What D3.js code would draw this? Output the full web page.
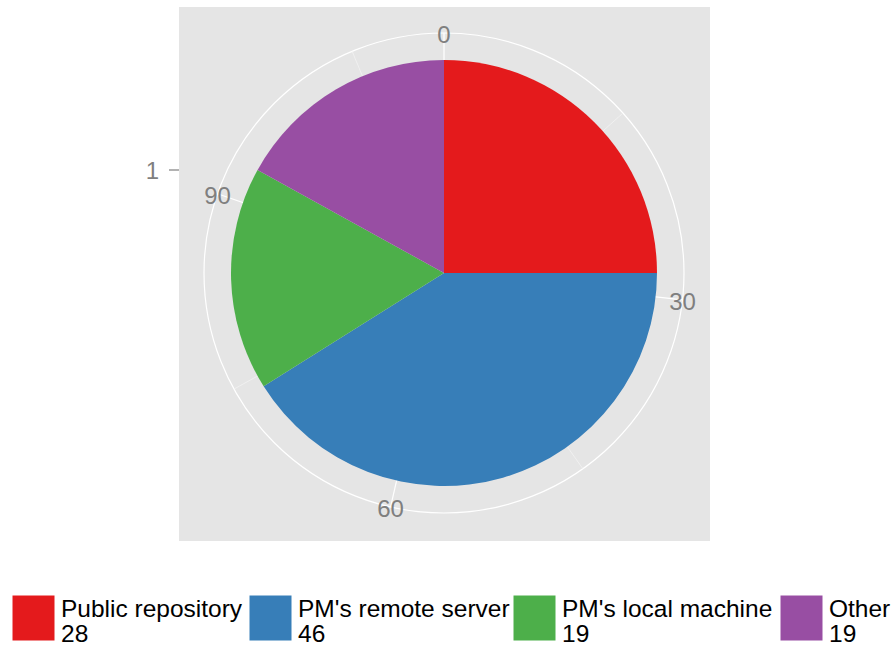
<!DOCTYPE html>
<html lang="en">
<head>
  <meta charset="UTF-8">
  <title>Where the data is kept</title>
  <script src="https://d3js.org/d3.v7.min.js"></script>
  <style>
    body { margin: 0; background: #fff; font-family: Arial, "Liberation Sans", sans-serif; }
  </style>
</head>
<body>
<svg id="chart" width="891" height="648"></svg>
<script>
const categories = ["Public repository", "PM's remote server", "PM's local machine", "Other"];
const counts = [28, 46, 19, 19];
const colors = ["#E41A1C", "#377EB8", "#4DAF4A", "#984EA3"];
const thetaTicks = [0, 30, 60, 90];
const thetaMinor = [15, 45, 75, 105];
const rTicks = ["1"];

const svg = d3.select("#chart");
const panel = { x: 179, y: 7, w: 531, h: 534 };
const cx = 444, cy = 273;
const pieR = 213, gridR = 240;

svg.append("rect")
  .attr("x", panel.x).attr("y", panel.y)
  .attr("width", panel.w).attr("height", panel.h)
  .attr("fill", "#E5E5E5");

const total = d3.sum(counts);
const theta = d3.scaleLinear().domain([0, total]).range([0, 2 * Math.PI]);

const g = svg.append("g").attr("transform", `translate(${cx},${cy})`);

// grid: outer circle and spokes
g.append("circle").attr("r", gridR).attr("fill", "none").attr("stroke", "#fff").attr("stroke-width", 1.2);
g.selectAll(".minor").data(thetaMinor).enter().append("line")
  .attr("x1", 0).attr("y1", 0)
  .attr("x2", d => gridR * Math.sin(theta(d)))
  .attr("y2", d => -gridR * Math.cos(theta(d)))
  .attr("stroke", "#F2F2F2").attr("stroke-width", 0.8);
g.selectAll(".major").data(thetaTicks).enter().append("line")
  .attr("x1", 0).attr("y1", 0)
  .attr("x2", d => gridR * Math.sin(theta(d)))
  .attr("y2", d => -gridR * Math.cos(theta(d)))
  .attr("stroke", "#fff").attr("stroke-width", 1.2);

// pie slices
const pie = d3.pie().sort(null).value(d => d.v)
  .startAngle(0).endAngle(2 * Math.PI);
const arc = d3.arc().innerRadius(0).outerRadius(pieR);
const slices = pie(categories.map((c, i) => ({ c, v: counts[i], col: colors[i] })));
g.selectAll(".slice").data(slices).enter().append("path")
  .attr("d", arc)
  .attr("fill", d => d.data.col);

// theta labels, centred on the outer circle
const labR = gridR;
g.selectAll(".tlab").data(thetaTicks).enter().append("text")
  .attr("x", d => labR * Math.sin(theta(d)))
  .attr("y", d => -labR * Math.cos(theta(d)) + 10)
  .attr("text-anchor", "middle")
  .attr("font-size", 24)
  .attr("fill", "#7F7F7F")
  .text(d => d);

// r axis tick
const rScale = d3.scalePoint().domain(rTicks).range([cy - 103, cy - 103]);
rTicks.forEach(t => {
  svg.append("line")
    .attr("x1", panel.x - 10).attr("x2", panel.x)
    .attr("y1", rScale(t)).attr("y2", rScale(t))
    .attr("stroke", "#7F7F7F").attr("stroke-width", 1.2);
  svg.append("text")
    .attr("x", panel.x - 20).attr("y", rScale(t) + 9)
    .attr("text-anchor", "end")
    .attr("font-size", 24)
    .attr("fill", "#7F7F7F")
    .text(t);
});

// legend
const keyX = [12, 249, 513, 780];
const leg = svg.append("g");
categories.forEach((c, i) => {
  leg.append("rect")
    .attr("x", keyX[i]).attr("y", 595)
    .attr("width", 43).attr("height", 46)
    .attr("fill", colors[i])
    .attr("stroke", "#fff").attr("stroke-width", 1);
  leg.append("text")
    .attr("x", keyX[i] + 49).attr("y", 617)
    .attr("font-size", 24.5).attr("fill", "#000")
    .text(c);
  leg.append("text")
    .attr("x", keyX[i] + 49).attr("y", 642)
    .attr("font-size", 24.5).attr("fill", "#000")
    .text(counts[i]);
});
</script>
</body>
</html>
